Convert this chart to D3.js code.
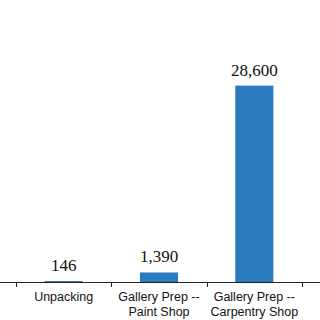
<!DOCTYPE html>
<html lang="en">
<head>
    <meta charset="UTF-8">
    <title>Bar chart</title>
    <script src="https://d3js.org/d3.v7.min.js"></script>
    <style>
        body { margin: 0; background: #fff; }
        .cat { font-family: "Liberation Sans", Arial, sans-serif; font-size: 12.5px; fill: #111; }
        .val { font-family: "Liberation Serif", "DejaVu Serif", serif; font-size: 17px; fill: #111; }
    </style>
</head>
<body>
<div id="chart"></div>
<script>
    // categories (the first and last are cut off by the frame)
    const categories = ["Art Storage", "Unpacking", "Gallery Prep -- Paint Shop", "Gallery Prep -- Carpentry Shop", "Installation"];
    const catLines = [["Art Storage"], ["Unpacking"], ["Gallery Prep --", "Paint Shop"], ["Gallery Prep --", "Carpentry Shop"], ["Installation"]];
    const values = [310, 146, 1390, 28600, 5200];

    const width = 320, height = 320;
    const baseY = 282;

    const svg = d3.select("#chart").append("svg")
        .attr("width", width)
        .attr("height", height);

    const x = d3.scaleBand()
        .domain(categories)
        .range([-79.3, 397.3])
        .padding(0);

    const y = d3.scaleLinear()
        .domain([0, 30000])
        .range([baseY, 76]);

    const barW = x.bandwidth() * 0.4;

    // bars
    svg.selectAll("rect.bar")
        .data(categories)
        .enter().append("rect")
        .attr("class", "bar")
        .attr("x", d => x(d) + (x.bandwidth() - barW) / 2)
        .attr("y", (d, i) => y(values[i]))
        .attr("width", barW)
        .attr("height", (d, i) => baseY - y(values[i]))
        .attr("fill", "#2b7cbf");

    // axis line
    svg.append("line")
        .attr("x1", 0).attr("x2", width)
        .attr("y1", baseY + 0.5).attr("y2", baseY + 0.5)
        .attr("stroke", "#222").attr("stroke-width", 1.2);

    // ticks between categories
    const edges = categories.map(c => x(c)).concat([x(categories[categories.length - 1]) + x.bandwidth()]);
    svg.selectAll("line.tick")
        .data(edges)
        .enter().append("line")
        .attr("class", "tick")
        .attr("x1", d => Math.round(d) + 0.5).attr("x2", d => Math.round(d) + 0.5)
        .attr("y1", baseY).attr("y2", baseY + 5)
        .attr("stroke", "#222");

    // value labels
    svg.selectAll("text.val")
        .data(categories)
        .enter().append("text")
        .attr("class", "val")
        .attr("text-anchor", "middle")
        .attr("x", d => x(d) + x.bandwidth() / 2)
        .attr("y", (d, i) => y(values[i]) - 10)
        .text((d, i) => d3.format(",")(values[i]));

    // category labels
    const labels = svg.selectAll("text.cat")
        .data(categories)
        .enter().append("text")
        .attr("class", "cat")
        .attr("text-anchor", "middle")
        .attr("x", d => x(d) + x.bandwidth() / 2)
        .attr("y", 301);
    labels.each(function(d, i) {
        const t = d3.select(this);
        catLines[i].forEach((line, j) => {
            t.append("tspan")
                .attr("x", x(d) + x.bandwidth() / 2)
                .attr("dy", j === 0 ? 0 : 14.5)
                .text(line);
        });
    });
</script>
</body>
</html>
